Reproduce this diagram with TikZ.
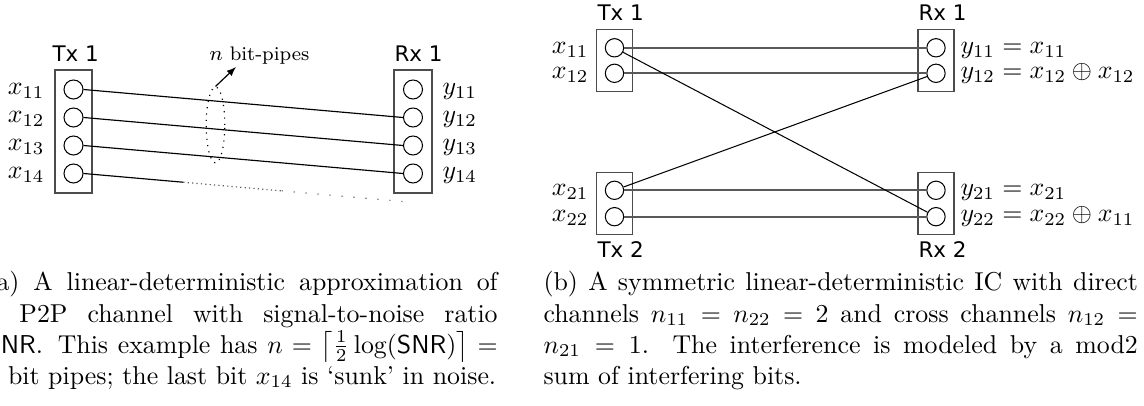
\documentclass[tikz,border=0pt]{standalone}
\usepackage{fontspec}
\newfontfamily\dejavu{DejaVu Sans}
\usetikzlibrary{arrows.meta,shapes.geometric,calc}
\tikzset{
  bx/.style={draw=black!70, line width=0.6pt, rectangle, inner sep=0pt},
  bxa/.style={bx, minimum width=14.4pt, minimum height=47.6pt},
  bxb/.style={bx, minimum width=13.9pt, minimum height=24.1pt},
  bit/.style={circle, draw, line width=0.4pt, minimum size=7.35pt, inner sep=0pt},
  bitb/.style={bit, minimum size=7.1pt},
  lab/.style={inner sep=0pt, font=\dejavu\fontsize{8.3}{10}\selectfont},
  mlab/.style={inner sep=0pt},
  pipe/.style={line width=0.45pt},
  hpipe/.style={line width=0.7pt, draw=black!65},
  xpipe/.style={line width=0.4pt},
  captext/.style={inner sep=0pt, anchor=base west}
}
\begin{document}
\begin{tikzpicture}[x=0.387pt, y=-0.387pt]
\useasboundingbox (0,0) rectangle (1144,406);
\clip (0,0) rectangle (1144,406);
% ---------------- (a) ----------------
\node[bxa] (txa) at (73.5,131.5) {};
\node[bxa, minimum width=14.7pt] (rxa) at (413,131.5) {};
\node[lab, anchor=base west] (txalab) at (52,61.5) {Tx 1};
\node[lab, anchor=base west] (rxalab) at (394,61.5) {Rx 1};
\foreach \i/\y in {1/89.5,2/117.5,3/145.5,4/173.5}{
  \node[bit] (ta\i) at (73.5,\y) {};
  \node[bit] (ra\i) at (413,\y) {};
  \node[mlab, anchor=base east] (xa\i) at (45,\y+5.5) {$x_{1\i}$};
  \node[mlab, anchor=base west] (ya\i) at (442,\y+5.5) {$y_{1\i}$};
}
\coordinate (ra5) at (403,201.5);
\draw[pipe] (ta1.east) -- (ra2.west);
\draw[pipe] (ta2.east) -- (ra3.west);
\draw[pipe] (ta3.east) -- (ra4.west);
\coordinate (m1) at ($(ta4.east)!0.3125!(ra5)$);
\coordinate (m2) at ($(ta4.east)!0.62!(ra5)$);
\draw[pipe] (ta4.east) -- (m1);
\draw[line width=0.45pt, black!65, dash pattern=on 0.45pt off 1.25pt] (m1) -- (m2);
\draw[line width=0.45pt, black!65, dash pattern=on 0.45pt off 4.2pt] (m2) -- (ra5);
\node[ellipse, draw, dotted, line width=0.45pt, minimum width=7.2pt, minimum height=29.4pt, inner sep=0pt] (ell) at (215.5,125) {};
\node[inner sep=0pt, anchor=base west, font=\fontsize{7.6}{9}\selectfont] (bp) at (209,61) {$n$ bit-pipes};
\coordinate (tip) at (236,67);
\draw[line width=0.45pt, -{Latex[length=3.6pt,width=2.8pt]}] (ell.north) -- (tip);
% ---------------- (b) ----------------
\node[bxb] (tx1) at (614.5,60.5) {};
\node[bxb] (rx1) at (936,60.5) {};
\node[bxb] (tx2) at (614.5,203.5) {};
\node[bxb] (rx2) at (936,203.5) {};
\node[lab, anchor=base west] (tx1lab) at (597,21) {Tx 1};
\node[lab, anchor=base west] (rx1lab) at (918,21) {Rx 1};
\node[lab, anchor=base west] (tx2lab) at (597,258) {Tx 2};
\node[lab, anchor=base west] (rx2lab) at (918,258) {Rx 2};
\node[bitb] (t11) at (614.5,47.8) {};
\node[bitb] (t12) at (614.5,73.3) {};
\node[bitb] (r11) at (936,47.8) {};
\node[bitb] (r12) at (936,73.3) {};
\node[bitb] (t21) at (614.5,190.3) {};
\node[bitb] (t22) at (614.5,216.7) {};
\node[bitb] (r21) at (936,190.3) {};
\node[bitb] (r22) at (936,216.7) {};
\node[mlab, anchor=base east] (x11) at (589,53.3) {$x_{11}$};
\node[mlab, anchor=base east] (x12) at (589,78.8) {$x_{12}$};
\node[mlab, anchor=base east] (x21) at (589,196) {$x_{21}$};
\node[mlab, anchor=base east] (x22) at (589,222) {$x_{22}$};
\node[mlab, anchor=base west] (y11) at (960,53.3) {$y_{11}=x_{11}$};
\node[mlab, anchor=base west] (y12) at (960,78.8) {$y_{12}=x_{12}\oplus x_{12}$};
\node[mlab, anchor=base west] (y21) at (960,196) {$y_{21}=x_{21}$};
\node[mlab, anchor=base west] (y22) at (960,222) {$y_{22}=x_{22}\oplus x_{11}$};
\draw[hpipe] (t11) -- (r11);
\draw[hpipe] (t12) -- (r12);
\draw[hpipe] (t21) -- (r21);
\draw[hpipe] (t22) -- (r22);
\draw[xpipe] (t11) -- (r22);
\draw[xpipe] (t21) -- (r12);
% ---------------- captions ----------------
\node[captext] (capa) at (-14,291) {\parbox[t]{197.8pt}{(a) A linear-deterministic approximation of\linebreak a P2P channel with signal-to-noise ratio\linebreak $\mathsf{SNR}$. This example has $n=\left\lceil\frac{1}{2}\log(\mathsf{SNR})\right\rceil=$\linebreak 3 bit pipes; the last bit $x_{14}$ is `sunk' in noise.}};
\node[captext] (capb) at (543,291) {\parbox[t]{230pt}{(b) A symmetric linear-deterministic IC with direct\linebreak channels $n_{11}=n_{22}=2$ and cross channels $n_{12}=$\linebreak $n_{21}=1$. The interference is modeled by a mod2\linebreak sum of interfering bits.}};
\end{tikzpicture}
\end{document}
